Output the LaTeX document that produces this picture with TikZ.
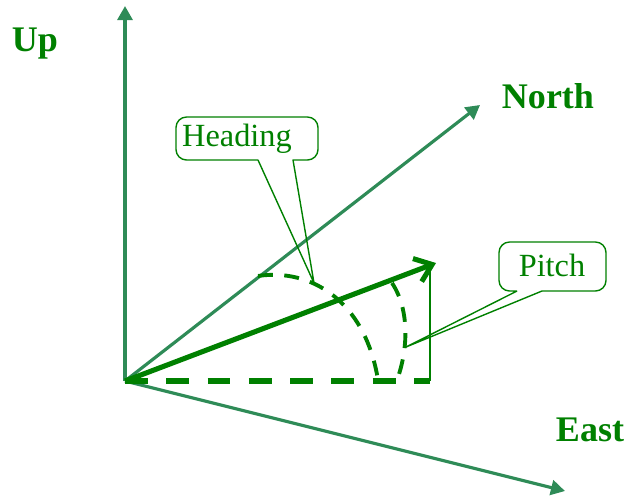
\documentclass[tikz,border=0pt]{standalone}
\usepackage{fontspec}
\setmainfont{Liberation Serif}
\usetikzlibrary{arrows.meta, calc, positioning}
\definecolor{axisgreen}{RGB}{46, 139, 87}
\definecolor{notegreen}{RGB}{0, 128, 0}

\begin{document}
\begin{tikzpicture}[x=0.02cm, y=-0.02cm,
    axis/.style={axisgreen, line width=1.8pt, -{Triangle[length=8pt, width=8.5pt]}},
    axislabel/.style={notegreen, font=\fontsize{20.5}{22}\selectfont\bfseries},
    callouttext/.style={notegreen, font=\fontsize{18.4}{20}\selectfont, inner sep=0pt},
    callout/.style={notegreen, line width=0.8pt, line join=round},
    anglearc/.style={notegreen, line width=2.2pt, dash pattern=on 8.5pt off 6.5pt}]
        \useasboundingbox (0,0) rectangle (628,495);
        \coordinate (O) at (125,381);
        \coordinate (up) at (125,6);
        \coordinate (north) at (480,105);
        \coordinate (east) at (565,491);
        \coordinate (tip) at (436,263);
        \coordinate (foot) at (430,381);

        % axes
        \draw[axis] (O) -- (up);
        \draw[axis] (O) -- (north);
        \draw[axis] (O) -- (east);
        \node[axislabel] (uplabel) at (35,44) {Up};
        \node[axislabel] (northlabel) at (548,96) {North};
        \node[axislabel] (eastlabel) at (590,430) {East};

        % angles
        \draw[anglearc] (258,276) .. controls (310,268) and (365,300) .. (378,380); % Heading
        \draw[anglearc] (392,283) .. controls (410,310) and (408,350) .. (397,380); % Pitch
        \draw[notegreen, line width=0.9pt] (foot) -- (430,265);
        \draw[notegreen, line width=3pt, dash pattern=on 13pt off 10.5pt] (O) -- (foot);

        % vector
        \draw[notegreen, line width=2.9pt, -{Straight Barb[length=9pt, width=14pt]}] (O) -- (tip);

        % callouts
        \node[callouttext] (heading) at (237,139) {Heading};
        \coordinate (hsw) at (176,160);
        \coordinate (hne) at (318,117);
        \coordinate (htip) at (314,283);
        \draw[callout] (258,160) [sharp corners] -- (htip) -- (293,160)
            [rounded corners=6pt] -- (hsw -| hne) -- (hne) -- (hne -| hsw) -- (hsw) -- (258,160);

        \node[callouttext] (pitch) at (552,265) {Pitch};
        \coordinate (psw) at (499,291);
        \coordinate (pne) at (606,242);
        \coordinate (ptip) at (406,347);
        \draw[callout] (517,291) [sharp corners] -- (ptip) -- (542,291)
            [rounded corners=6pt] -- (psw -| pne) -- (pne) -- (pne -| psw) -- (psw) -- (517,291);
\end{tikzpicture}
\end{document}
